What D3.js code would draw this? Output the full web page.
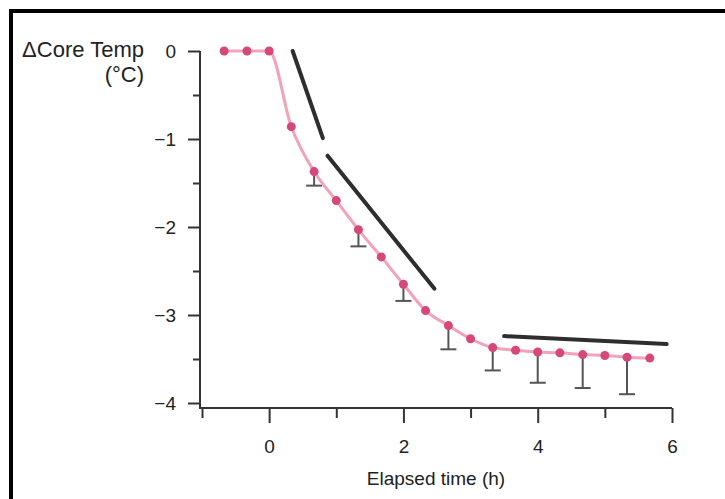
<!DOCTYPE html>
<html>
<head>
<meta charset="utf-8">
<script src="https://cdn.jsdelivr.net/npm/d3@7"></script>
<style>
    body { margin: 0; background: #fff; }
    svg text { font-family: "Liberation Sans", Arial, sans-serif; fill: #222; }
    .axis path, .axis line { stroke: #333; stroke-width: 2; }
</style>
</head>
<body>
<div id="graph"></div>
<script>
var consts = {
    width: 725,
    height: 499
};

// elapsed time (h), 20 min steps
var times = [-0.67, -0.33, 0, 0.33, 0.67, 1, 1.33, 1.67, 2, 2.33, 2.67, 3, 3.33, 3.67, 4, 4.33, 4.67, 5, 5.33, 5.67];
// change in core temperature (°C)
var temps = [0, 0, 0, -0.86, -1.37, -1.70, -2.03, -2.34, -2.65, -2.95, -3.12, -3.27, -3.37, -3.40, -3.42, -3.43, -3.45, -3.46, -3.48, -3.49];
// lower error bars
var errTimes = [0.67, 1.33, 2, 2.67, 3.33, 4, 4.67, 5.33];
var errLow = [-1.53, -2.22, -2.84, -3.39, -3.63, -3.77, -3.83, -3.90];
// fitted slopes (black segments)
var slopeSegments = [
    { x1: 0.35, y1: 0.0, x2: 0.80, y2: -0.99 },
    { x1: 0.87, y1: -1.19, x2: 2.46, y2: -2.70 },
    { x1: 3.50, y1: -3.24, x2: 5.92, y2: -3.33 }
];
var xTicks = [-1, 0, 1, 2, 3, 4, 5, 6];
var yTicks = [0, -0.5, -1, -1.5, -2, -2.5, -3, -3.5, -4];

var vis = d3.select('#graph').append('svg')
    .attr('width', consts.width)
    .attr('height', consts.height);

var x = d3.scaleLinear().domain([-1, 6]).range([202, 672]);
var y = d3.scaleLinear().domain([0, -4]).range([51, 403]);
var axisY = 200, axisXY = 408;

// frame (top and left only, the picture is cropped)
vis.append('path')
    .attr('d', 'M11,499 V11 H725')
    .attr('fill', 'none')
    .attr('stroke', '#000')
    .attr('stroke-width', 4);

// y axis
var yAxis = d3.axisLeft(y)
    .tickValues(yTicks)
    .tickSize(0)
    .tickFormat('');
var gy = vis.append('g')
    .attr('class', 'axis')
    .attr('transform', 'translate(' + axisY + ',0)')
    .call(yAxis);
gy.select('.domain').remove();
gy.append('line').attr('x1', 0).attr('x2', 0).attr('y1', y(0)).attr('y2', axisXY);
gy.selectAll('.tick line')
    .attr('x2', function (d) { return d % 1 === 0 ? -12 : -7; });
gy.selectAll('.tick')
    .filter(function (d) { return d % 1 === 0; })
    .append('text')
    .attr('x', -24)
    .attr('dy', '0.35em')
    .attr('text-anchor', 'end')
    .style('font-size', '19px')
    .text(function (d) { return d === 0 ? '0' : '\u2212' + Math.abs(d); });

// x axis
var xAxis = d3.axisBottom(x)
    .tickValues(xTicks)
    .tickSize(0)
    .tickFormat('');
var gx = vis.append('g')
    .attr('class', 'axis')
    .attr('transform', 'translate(0,' + axisXY + ')')
    .call(xAxis);
gx.select('.domain').remove();
gx.append('line').attr('x1', axisY - 1).attr('x2', x(6)).attr('y1', 0).attr('y2', 0);
gx.selectAll('.tick line')
    .attr('y2', function (d) { return d % 2 === 0 ? 15 : 10; });
gx.selectAll('.tick')
    .filter(function (d) { return d % 2 === 0; })
    .append('text')
    .attr('y', 45)
    .attr('text-anchor', 'middle')
    .style('font-size', '19px')
    .text(function (d) { return d; });

// axis titles
vis.append('text')
    .attr('x', 144).attr('y', 57)
    .attr('text-anchor', 'end')
    .style('font-size', '22px')
    .text('\u0394Core Temp');
vis.append('text')
    .attr('x', 144).attr('y', 82)
    .attr('text-anchor', 'end')
    .style('font-size', '22px')
    .text('(\u00B0C)');
vis.append('text')
    .attr('x', 436).attr('y', 485)
    .attr('text-anchor', 'middle')
    .style('font-size', '19px')
    .text('Elapsed time (h)');

// error bars
var errs = errTimes.map(function (t, i) {
    return { t: t, low: errLow[i], mean: temps[times.indexOf(t)] };
});
var eg = vis.selectAll('.err').data(errs).enter().append('g').attr('class', 'err')
    .attr('stroke', '#555').attr('stroke-width', 2);
eg.append('line')
    .attr('x1', function (d) { return x(d.t); })
    .attr('x2', function (d) { return x(d.t); })
    .attr('y1', function (d) { return y(d.mean); })
    .attr('y2', function (d) { return y(d.low); });
eg.append('line')
    .attr('x1', function (d) { return x(d.t) - 8; })
    .attr('x2', function (d) { return x(d.t) + 8; })
    .attr('y1', function (d) { return y(d.low); })
    .attr('y2', function (d) { return y(d.low); });

// slope segments
vis.selectAll('.slope').data(slopeSegments).enter().append('line')
    .attr('class', 'slope')
    .attr('x1', function (d) { return x(d.x1); })
    .attr('y1', function (d) { return y(d.y1); })
    .attr('x2', function (d) { return x(d.x2); })
    .attr('y2', function (d) { return y(d.y2); })
    .attr('stroke', '#2e2e2e')
    .attr('stroke-width', 4)
    .attr('stroke-linecap', 'round');

// mean curve
var pts = times.map(function (t, i) { return { t: t, v: temps[i] }; });
var line = d3.line()
    .x(function (d) { return x(d.t); })
    .y(function (d) { return y(d.v); })
    .curve(d3.curveMonotoneX);
vis.append('path')
    .datum(pts)
    .attr('d', line)
    .attr('fill', 'none')
    .attr('stroke', '#f2a3b6')
    .attr('stroke-width', 3);
vis.selectAll('.dot').data(pts).enter().append('circle')
    .attr('class', 'dot')
    .attr('cx', function (d) { return x(d.t); })
    .attr('cy', function (d) { return y(d.v); })
    .attr('r', 4.5)
    .attr('fill', '#d6477a');
</script>
</body>
</html>
